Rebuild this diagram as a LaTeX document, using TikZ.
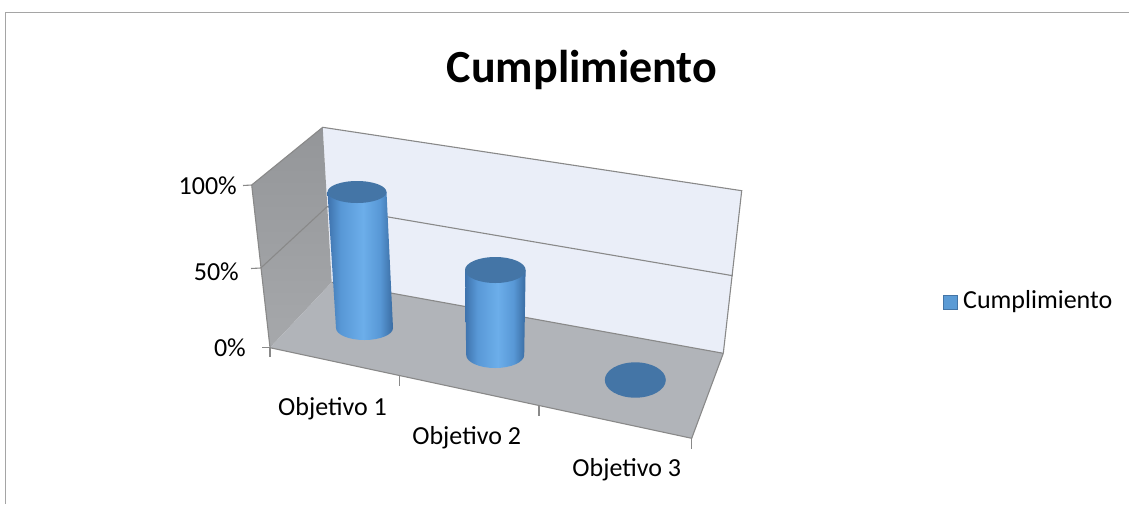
\documentclass[tikz,border=0pt]{standalone}
\usepackage{fontspec}
\setmainfont{Carlito}
\definecolor{backwall}{RGB}{234,238,248}
\definecolor{leftwall}{RGB}{158,160,163}
\definecolor{floorc}{RGB}{177,180,185}
\definecolor{edgec}{RGB}{137,137,137}
\definecolor{frame}{RGB}{165,165,165}
\definecolor{cyltop}{RGB}{68,117,166}
\definecolor{cylL}{RGB}{62,114,172}
\definecolor{cylM}{RGB}{88,152,214}
\definecolor{cylH}{RGB}{108,174,234}
\definecolor{cylR}{RGB}{58,108,162}
\pgfdeclarehorizontalshading{cylsh}{100bp}{color(0bp)=(cylL); color(25bp)=(cylL); color(35bp)=(cylM); color(52bp)=(cylH); color(65bp)=(cylM); color(75bp)=(cylR); color(100bp)=(cylR)}
\begin{document}
\begin{tikzpicture}[x=1pt,y=-1pt,
  edge/.style={draw=edgec,line width=1.1pt},
  lbl/.style={font=\fontsize{26}{30}\selectfont,inner sep=0pt,anchor=base},
  ylbl/.style={font=\fontsize{26}{30}\selectfont,inner sep=0pt,anchor=base east},
  cylside/.style={shading=cylsh},
  cyltopst/.style={fill=cyltop}]
\useasboundingbox (0,0) rectangle (1129,504);
% frame
\draw[frame,line width=1.6pt] (5.5,504) -- (5.5,12.5) -- (1129,12.5);
% title
\node[inner sep=0pt,anchor=base,font=\bfseries\fontsize{46}{52}\selectfont] (title) at (582,82) {Cumplimiento};
% walls
\coordinate (lwft) at (251.7,185);
\coordinate (bwtl) at (322.7,127.3);
\coordinate (bwtr) at (741.7,190.7);
\coordinate (fbl) at (331.7,282.3);
\coordinate (fbr) at (723.3,353.3);
\coordinate (ffl) at (270,347.7);
\coordinate (ffr) at (691.7,438.3);
\fill[backwall] (bwtl) -- (bwtr) -- (fbr) -- (fbl) -- cycle;
\shade[top color={rgb,255:red,148;green,150;blue,153},bottom color={rgb,255:red,166;green,168;blue,171}] (lwft) -- (bwtl) -- (fbl) -- (ffl) -- cycle;
\fill[floorc] (fbl) -- (fbr) -- (ffr) -- (ffl) -- cycle;
% gridlines / edges
\draw[edge] (lwft) -- (bwtl) -- (bwtr) -- (fbr);
\draw[edge] (260.8,268) -- (327.2,206.6) -- (732.7,275.7);
\draw[edge] (fbl) -- (fbr);
\draw[edge] (ffl) -- (ffr) -- (fbr);
\draw[edge] (lwft) -- (ffl);
% y ticks
\draw[edge] (243,185.5) -- (lwft);
\draw[edge] (251,268.5) -- (260.8,268);
\draw[edge] (262,347.7) -- (ffl);
% x ticks
\draw[edge] (ffl) -- (270,357);
\draw[edge] (399.3,375.5) -- (399.3,385.5);
\draw[edge] (539,405.5) -- (539,415.5);
\draw[edge] (ffr) -- (691.7,448.5);
% y labels
\node[ylbl] (y100) at (237,194.5) {100\%};
\node[ylbl] (y50) at (239,280) {50\%};
\node[ylbl] (y0) at (246,356) {0\%};
% x labels
\node[lbl] (o1) at (332.5,415) {Objetivo 1};
\node[lbl] (o2) at (466.7,444.5) {Objetivo 2};
\node[lbl] (o3) at (626.8,476.7) {Objetivo 3};
% cylinder 1
\shade[cylside] (327.5,192) -- (336,328) arc[start angle=180,end angle=0,x radius=28.5,y radius=12] -- (386.5,192) -- cycle;
\fill[cyltopst] (357,192) ellipse[x radius=29.5,y radius=11];
% cylinder 2
\shade[cylside] (465,270) -- (466.2,355) arc[start angle=180,end angle=0,x radius=29,y radius=13] -- (525.6,270) -- cycle;
\fill[cyltopst] (495.3,270) ellipse[x radius=30.3,y radius=13];
% cylinder 3 (zero)
\fill[cyltopst] (635.3,380) ellipse[x radius=30.5,y radius=17.7];
% legend
\node[draw=cyltop,fill={rgb,255:red,91;green,155;blue,213},minimum width=14pt,minimum height=14pt,inner sep=0pt,line width=0.8pt] (legbox) at (950.5,302) {};
\node[font=\fontsize{26}{30}\selectfont,inner sep=0pt,anchor=west] (legtxt) at (963,302) {Cumplimiento};
\end{tikzpicture}
\end{document}
